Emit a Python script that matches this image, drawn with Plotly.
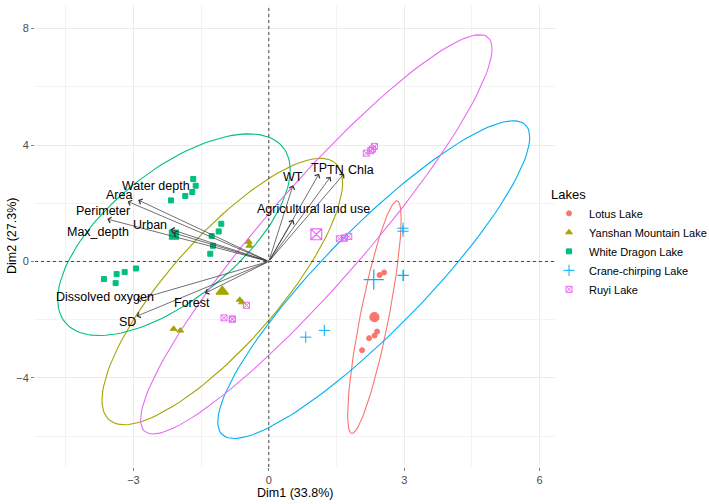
import numpy as np
import plotly.graph_objects as go

# ---------------- data ----------------
lakes = ["Lotus Lake", "Yanshan Mountain Lake", "White Dragon Lake", "Crane-chirping Lake", "Ruyi Lake"]
colors = ["#F8766D", "#A3A500", "#00BF7D", "#00B0F6", "#E76BF3"]
symbols = ["circle", "triangle-up", "square", "cross-thin-open", "square-x-open"]

lotus_x = [2.554, 2.454, 2.399, 2.343, 2.221, 2.066]
lotus_y = [-0.378, -0.468, -2.407, -2.545, -2.634, -3.047]

yanshan_x = [-0.432, -0.445, -0.645, -0.594, -2.108, -1.962]
yanshan_y = [0.540, 0.675, -1.317, -1.403, -2.314, -2.373]

white_x = [-1.674, -1.620, -1.696, -1.851, -2.168, -1.053, -1.111, -1.266, -1.237, -1.297,
           -2.944, -3.194, -3.372, -3.653, -3.394]
white_y = [2.834, 2.603, 2.387, 2.249, 2.098, 1.296, 1.032, 0.873, 0.540, 0.265,
           -0.241, -0.365, -0.433, -0.605, -0.743]

crane_x = [2.973, 2.973, 2.973, 2.980, 1.230, 0.818]
crane_y = [1.142, 1.039, -0.475, -0.480, -2.366, -2.600]

ruyi_x = [2.339, 2.294, 2.259, 2.159, 1.563, 1.674, 1.674, 1.771, -0.494, -0.993, -0.809, -0.809]
ruyi_y = [3.955, 3.858, 3.807, 3.721, 0.781, 0.805, 0.805, 0.860, -1.506, -1.936, -1.981, -1.981]

var_names = ["Water depth", "Area", "Perimeter", "Max_depth", "Urban", "Dissolved oxygen", "SD",
             "Forest", "WT", "TP", "TN", "Chla", "Agricultural land use"]
var_x = [-2.893, -3.128, -3.580, -2.124, -2.179, -2.928, -2.933, -1.414, 0.536, 1.113, 1.368, 1.668, 0.543]
var_y = [2.111, 2.063, 1.458, 0.987, 1.107, -1.317, -1.884, -1.094, 2.620, 3.016, 2.913, 3.016, 1.434]
# label offsets (pixels) relative to arrow tips (style)
label_dx = [18, -9, -4, -75, -20, -32, -9, -13, 0, 0, 5, 17, 20]
label_dy = [14, 6, 8, 1, 4, 3, -6, -10, 8, 6, 7, 4, 11]

x_title = "Dim1 (33.8%)"
y_title = "Dim2 (27.3%)"
legend_title = "Lakes"
x_ticks = [-3, 0, 3, 6]
y_ticks = [-4, 0, 4, 8]

groups_x = [lotus_x, yanshan_x, white_x, crane_x, ruyi_x]
groups_y = [lotus_y, yanshan_y, white_y, crane_y, ruyi_y]

FONT = "Liberation Sans, Arial, sans-serif"


def norm_ellipse(xs, ys, level=0.95, segments=120):
    pts = np.column_stack([xs, ys])
    n = len(pts)
    center = pts.mean(axis=0)
    cov = np.cov(pts.T, ddof=1)
    upper = np.linalg.cholesky(cov).T
    dfd = n - 1
    fq = (dfd / 2.0) * ((1 - level) ** (-2.0 / dfd) - 1)
    radius = np.sqrt(2 * fq)
    ang = np.linspace(0, 2 * np.pi, segments + 1)
    circ = np.column_stack([np.cos(ang), np.sin(ang)])
    ell = center + radius * circ @ upper
    return ell[:, 0], ell[:, 1]


fig = go.Figure()

# ellipses
for name, col, gx, gy in zip(lakes, colors, groups_x, groups_y):
    ex, ey = norm_ellipse(gx, gy)
    fig.add_trace(go.Scatter(x=ex, y=ey, mode="lines", line=dict(color=col, width=1.1),
                             showlegend=False, hoverinfo="skip"))

# points
for name, col, sym, gx, gy in zip(lakes, colors, symbols, groups_x, groups_y):
    open_sym = sym.endswith("open")
    size = 8 if sym.startswith("cross") else (6 if open_sym else 5)
    if sym == "triangle-up":
        size = 6
    fig.add_trace(go.Scatter(x=gx, y=gy, mode="markers", name=name,
                             marker=dict(color=col, symbol=sym, size=size,
                                         line=dict(color=col, width=1)),
                             legendgroup=name))
    # group mean (larger)
    fig.add_trace(go.Scatter(x=[float(np.mean(gx))], y=[float(np.mean(gy))], mode="markers",
                             marker=dict(color=col, symbol=sym, size=size * 1.8,
                                         line=dict(color=col, width=1.2)),
                             showlegend=False, legendgroup=name, hoverinfo="skip"))

annotations = []
for nm, vx, vy, dx, dy in zip(var_names, var_x, var_y, label_dx, label_dy):
    annotations.append(dict(x=vx, y=vy, ax=0, ay=0, xref="x", yref="y", axref="x", ayref="y",
                            text="", showarrow=True, arrowhead=4, arrowsize=1.6,
                            arrowwidth=0.7, arrowcolor="#333333"))
    annotations.append(dict(x=vx, y=vy, xref="x", yref="y", text=nm, showarrow=False,
                            xshift=dx, yshift=dy, font=dict(family=FONT, size=12.5, color="black")))

annotations.append(dict(x=0.5, y=0, xref="paper", yref="paper", text=x_title, showarrow=False,
                        yanchor="top", yshift=-17, font=dict(family=FONT, size=12.5, color="black")))
annotations.append(dict(x=0, y=0.5, xref="paper", yref="paper", text=y_title, showarrow=False,
                        textangle=-90, xanchor="center", xshift=-23,
                        font=dict(family=FONT, size=12.5, color="black")))

shapes = [
    dict(type="line", xref="x", yref="paper", x0=0, x1=0, y0=0, y1=1,
         line=dict(color="#333333", width=0.9, dash="3px,3px")),
    dict(type="line", xref="paper", yref="y", x0=0, x1=1, y0=0, y1=0,
         line=dict(color="#333333", width=0.9, dash="3px,3px")),
]

axis_common = dict(showline=False, zeroline=False, gridcolor="#EBEBEB", gridwidth=1,
                   ticks="outside", ticklen=3, tickcolor="#7F7F7F", tickwidth=0.6,
                   tickfont=dict(family=FONT, size=11, color="#4D4D4D"))

fig.update_layout(
    width=709, height=504,
    margin=dict(l=35, r=154, t=5, b=37, autoexpand=False),
    paper_bgcolor="white", plot_bgcolor="white",
    xaxis=dict(range=[-5.18, 6.34], tickvals=x_ticks,
               minor=dict(tickvals=[-4.5, -1.5, 1.5, 4.5], showgrid=True, gridcolor="#F3F3F3",
                          gridwidth=0.6, ticks=""), **axis_common),
    yaxis=dict(range=[-7.06, 8.81], tickvals=y_ticks,
               minor=dict(tickvals=[-6, -2, 2, 6], showgrid=True, gridcolor="#F3F3F3",
                          gridwidth=0.6, ticks=""), **axis_common),
    showlegend=True,
    legend=dict(x=0.9885, y=0.617, xanchor="left", yanchor="top",
                title=dict(text=legend_title, font=dict(family=FONT, size=13, color="black")),
                font=dict(family=FONT, size=11, color="black"), tracegroupgap=0,
                bgcolor="rgba(0,0,0,0)"),
    annotations=annotations,
    shapes=shapes,
)

fig.write_html("out.html", config={"displayModeBar": False},
               post_script="document.body.style.margin='0px';")
